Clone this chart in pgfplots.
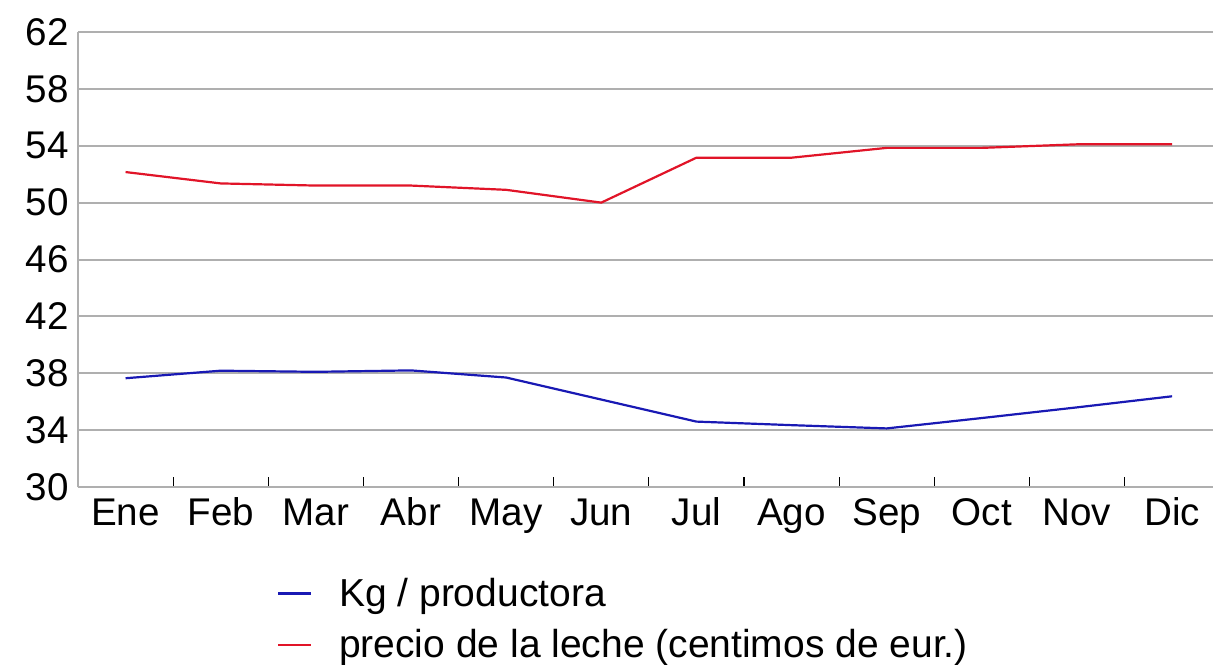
\documentclass[border=0pt]{standalone}
\usepackage{pgfplots}
\pgfplotsset{compat=1.18}
\usetikzlibrary{calc}
\usepackage{fontspec}
\setmainfont{Liberation Sans}
\definecolor{blueline}{RGB}{25,25,180}
\definecolor{redline}{RGB}{225,20,40}
\definecolor{gridgray}{RGB}{175,175,175}
\begin{document}
\begin{tikzpicture}
\begin{axis}[
  name=ax,
  scale only axis,
  width=567.5pt, height=227.5pt,
  xmin=-0.5, xmax=11.43,
  ymin=30, ymax=62,
  ytick={30,34,...,62},
  xtick={0,...,11},
  xticklabels={Ene,Feb,Mar,Abr,May,Jun,Jul,Ago,Sep,Oct,Nov,Dic},
  minor xtick={-0.5,0.5,...,10.5},
  major tick length=0pt,
  minor tick length=5pt,
  tick align=inside,
  minor tick style={black, line width=0.6pt},
  axis x line*=bottom, axis y line*=left,
  axis line style={gridgray, line width=1pt},
  ymajorgrids,
  major grid style={gridgray, line width=1pt},
  ticklabel style={font=\fontsize{19.3}{21}\selectfont, text=black},
  /pgf/number format/assume math mode=true,
  yticklabel style={xshift=-1pt},
  xticklabel style={yshift=-8.5pt, text height=0.72em, text depth=0.2em},
  legend style={draw=none, fill=none, at={(0.175,-0.19)}, anchor=north west,
    font=\fontsize{19.5}{21}\selectfont, row sep=6pt, inner sep=0pt},
  legend cell align=left,
  legend image code/.code={\draw[#1] (0pt,0pt) -- (16.5pt,0pt); \path[draw=none] (0pt,0pt) -- (28.5pt,0pt);},
  clip=false,
]
\addplot[blueline, line width=1.1pt] coordinates {
 (0,37.65) (1,38.18) (2,38.1) (3,38.2) (4,37.7) (5,36.15)
 (6,34.6) (7,34.35) (8,34.12) (9,34.85) (10,35.6) (11,36.38)};
\addlegendentry{Kg / productora}
\addplot[redline, line width=1.1pt] coordinates {
 (0,52.15) (1,51.35) (2,51.2) (3,51.2) (4,50.9) (5,50.0)
 (6,53.16) (7,53.16) (8,53.85) (9,53.85) (10,54.1) (11,54.1)};
\addlegendentry{precio de la leche (centimos de eur.)}
\coordinate (bl) at (rel axis cs:0,0);
\end{axis}
\pgfresetboundingbox
\path[use as bounding box] ($(bl)+(-39pt,-88.5pt)$) rectangle ++(606.5pt,332pt);
\end{tikzpicture}
\end{document}
